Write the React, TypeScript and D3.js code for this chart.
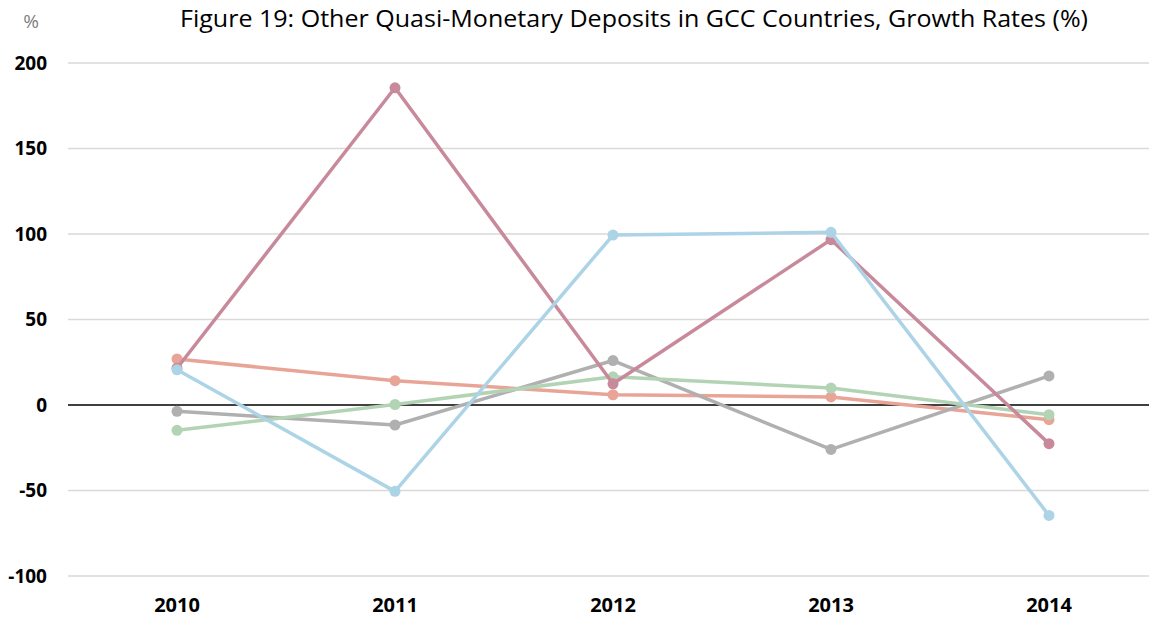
import * as d3 from 'd3'

const years = ['2010', '2011', '2012', '2013', '2014']
const yTicks = [-100, -50, 0, 50, 100, 150, 200]

// one array per series, values in %
const seriesOrange = [26.9, 14.2, 6, 4.7, -8.6]
const seriesGray = [-3.7, -11.7, 26, -26, 17]
const seriesGreen = [-14.8, 0.3, 16.5, 9.9, -5.7]
const seriesRose = [21.5, 185.5, 12.4, 96.7, -22.6]
const seriesBlue = [20.6, -50.5, 99.4, 101, -64.6]

const series = [
  { key: 'orange', color: '#e8a597', values: seriesOrange },
  { key: 'gray', color: '#b0b0b0', values: seriesGray },
  { key: 'green', color: '#b3d3b5', values: seriesGreen },
  { key: 'rose', color: '#c88a9b', values: seriesRose },
  { key: 'blue', color: '#acd4e6', values: seriesBlue },
]

const W = 1149
const H = 619
const M = { top: 63, right: -9, bottom: 43, left: 68 }
const FONT = '"Open Sans", "Noto Sans", sans-serif'

export default function App() {
  const x = d3.scalePoint<string>().domain(years).range([M.left, W - M.right]).padding(0.5)
  const y = d3.scaleLinear().domain([-100, 200]).range([H - M.bottom, M.top])

  const line = d3
    .line<number>()
    .x((_, i) => x(years[i]) as number)
    .y(d => y(d))

  return (
    <svg width={W} height={H} style={{ position: 'absolute', left: 0, top: 0, background: '#fff' }}>
      <text x={31} y={28} textAnchor="middle" fontFamily={FONT} fontSize={19} fill="#7f7f7f">%</text>
      <text x={634} y={27} textAnchor="middle" fontFamily={FONT} fontSize={24} fill="#000" textLength={908} lengthAdjust="spacingAndGlyphs">
        Figure 19: Other Quasi-Monetary Deposits in GCC Countries, Growth Rates (%)
      </text>

      {/* Grid */}
      {yTicks.filter(t => t !== 0).map(t => (
        <line key={t} x1={M.left} x2={W} y1={y(t)} y2={y(t)} stroke="#d9d9d9" strokeWidth={1.5} />
      ))}
      <line x1={M.left} x2={W} y1={y(0)} y2={y(0)} stroke="#000" strokeWidth={1.5} />

      {/* Y labels */}
      {yTicks.map(t => (
        <text key={t} x={47} y={y(t)} dy="0.36em" textAnchor="end" fontFamily={FONT} fontWeight="bold" fontSize={19} fill="#000">
          {t}
        </text>
      ))}

      {/* X labels */}
      {years.map(yr => (
        <text key={yr} x={x(yr)} y={612} textAnchor="middle" fontFamily={FONT} fontWeight="bold" fontSize={20} fill="#000">
          {yr}
        </text>
      ))}

      {/* Series */}
      {series.map(s => (
        <g key={s.key}>
          <path d={line(s.values) ?? ''} fill="none" stroke={s.color} strokeWidth={3.5} strokeLinejoin="round" />
          {s.values.map((v, i) => (
            <circle key={i} cx={x(years[i])} cy={y(v)} r={5.5} fill={s.color} />
          ))}
        </g>
      ))}
    </svg>
  )
}
